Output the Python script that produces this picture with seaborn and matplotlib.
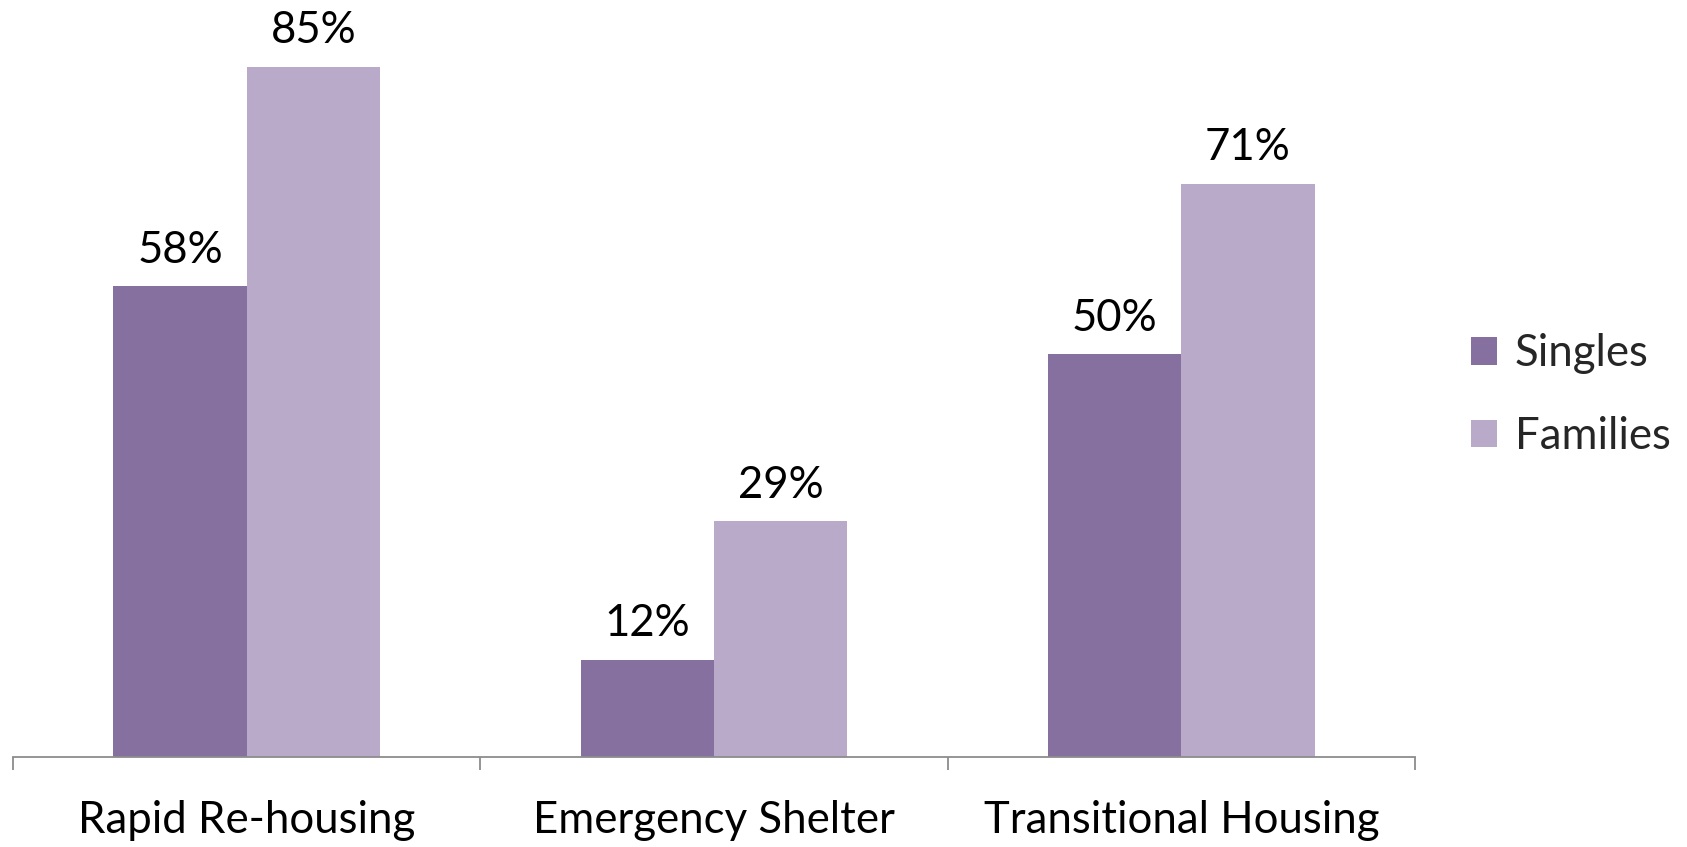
import pandas as pd
import seaborn as sns
import matplotlib.pyplot as plt
from matplotlib.ticker import FixedLocator

programs = ['Rapid Re-housing', 'Emergency Shelter', 'Transitional Housing']
singles = [58, 12, 49.6]
families = [85, 29, 70.6]
groups = ['Singles', 'Families']
colors = ['#8670A0', '#BAAAC9']

data = pd.DataFrame({
    'program': programs * 2,
    'group': ['Singles'] * 3 + ['Families'] * 3,
    'pct': singles + families,
})

sns.set_style('white')
plt.rcParams['font.family'] = ['Lato', 'DejaVu Sans']

fig = plt.figure(figsize=(16.87, 8.47), dpi=100)
ax = fig.add_axes([0.0077, 0.1063, 0.8311, 0.863])

sns.barplot(data=data, x='program', y='pct', hue='group', hue_order=groups,
            palette=colors, width=0.57, gap=0, ax=ax, errorbar=None,
            edgecolor='none', linewidth=0, saturation=1)

# value labels on top of bars
for cont in ax.containers:
    ax.bar_label(cont, labels=[f'{v:.0f}%' for v in cont.datavalues],
                 padding=11, fontsize=31.5, color='black')

ax.set_xlim(-0.5, 2.5)
ax.set_ylim(0, 90)
ax.set_xlabel('')
ax.set_ylabel('')
ax.set_yticks([])
for s in ['top', 'right', 'left']:
    ax.spines[s].set_visible(False)
ax.spines['bottom'].set_color('#8C8C8C')
ax.spines['bottom'].set_linewidth(1.3)

# category boundary ticks
ax.xaxis.set_minor_locator(FixedLocator([-0.5, 0.5, 1.5, 2.5]))
ax.tick_params(axis='x', which='minor', length=9.5, width=1.3, color='#8C8C8C', direction='out', bottom=True)
ax.tick_params(axis='x', which='major', length=0, pad=31, labelsize=31.5, labelcolor='black')

handles, labels = ax.get_legend_handles_labels()
ax.legend(handles, labels, loc='center left', bbox_to_anchor=(1.040, 0.495),
          frameon=False, fontsize=31.5, handlelength=0.6, handleheight=0.6,
          handletextpad=0.4, labelspacing=0.95, borderpad=0, borderaxespad=0)

plt.savefig('out.png', dpi=100)
